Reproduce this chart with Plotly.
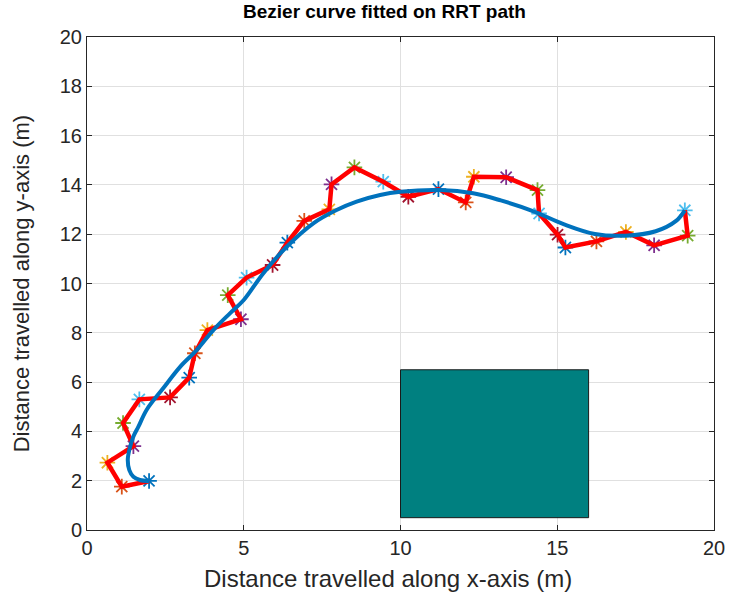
import plotly.graph_objects as go

# RRT path waypoints (red polyline with star markers)
path_x = [1.98, 1.11, 0.65, 1.48, 1.15, 1.67, 2.65, 3.26, 3.44, 3.84, 4.91, 4.49, 5.09, 5.92,
          6.39, 6.93, 7.73, 7.80, 8.53, 9.45, 10.25, 11.21, 12.08, 12.34, 13.37, 14.37,
          14.42, 15.01, 15.26, 16.25, 17.19, 18.09, 19.16, 19.07]
path_y = [1.99, 1.76, 2.73, 3.40, 4.34, 5.30, 5.38, 6.18, 7.17, 8.11, 8.55, 9.53, 10.24, 10.75,
          11.66, 12.54, 13.01, 14.02, 14.71, 14.13, 13.52, 13.83, 13.29, 14.33, 14.31, 13.79,
          12.84, 11.98, 11.46, 11.71, 12.09, 11.55, 11.94, 12.97]

# Fitted Bezier curve
bez_x = [1.98, 1.69, 1.48, 1.35, 1.30, 1.35, 1.48, 1.64, 1.90, 2.43, 2.97, 3.50, 4.03, 4.56,
         5.00, 5.62, 6.37, 7.22, 7.96, 8.60, 9.35, 10.0, 11.26, 12.32, 13.20, 14.20, 15.20,
         16.20, 17.17, 18.14, 18.79, 19.07]
bez_y = [1.99, 2.03, 2.16, 2.43, 2.84, 3.25, 3.79, 4.19, 4.87, 5.75, 6.62, 7.30, 8.11, 8.79,
         9.33, 10.41, 11.49, 12.44, 12.98, 13.32, 13.59, 13.72, 13.79, 13.66, 13.37, 12.95, 12.41,
         12.01, 11.94, 12.12, 12.54, 12.97]

# Obstacle rectangle
obstacle_x = [10, 16]
obstacle_y = [0.5, 6.5]

color_order = ["#0072BD", "#D95319", "#EDB120", "#7E2F8E", "#77AC30", "#4DBEEE", "#A2142F"]
marker_colors = [color_order[i % len(color_order)] for i in range(len(path_x))]

tick_vals_x = [0, 5, 10, 15, 20]
tick_vals_y = [0, 2, 4, 6, 8, 10, 12, 14, 16, 18, 20]

title_text = "Bezier curve fitted on RRT path"
xlabel_text = "Distance travelled along x-axis (m)"
ylabel_text = "Distance travelled along y-axis (m)"

FONT = "Liberation Sans, Arial"

fig = go.Figure()

fig.add_shape(type="rect", xref="x", yref="y",
              x0=obstacle_x[0], x1=obstacle_x[1], y0=obstacle_y[0], y1=obstacle_y[1],
              fillcolor="#008080", line=dict(color="#1a1a1a", width=1), layer="above")

fig.add_trace(go.Scatter(x=path_x, y=path_y, mode="markers",
                         marker=dict(symbol="asterisk-open", size=13, color=marker_colors,
                                     line=dict(color=marker_colors, width=1.8)),
                         showlegend=False, hoverinfo="skip"))
fig.add_trace(go.Scatter(x=path_x, y=path_y, mode="lines",
                         line=dict(color="#FF0000", width=4.5),
                         showlegend=False))
fig.add_trace(go.Scatter(x=bez_x, y=bez_y, mode="lines",
                         line=dict(color="#0072BD", width=4, shape="spline", smoothing=1.0),
                         showlegend=False))

axis_common = dict(
    showline=True, linecolor="#262626", linewidth=1, mirror="ticks",
    ticks="inside", ticklen=5, tickcolor="#262626", tickwidth=1,
    showgrid=True, gridcolor="#e0e0e0", gridwidth=1, zeroline=False,
    automargin=False,
    tickfont=dict(family=FONT, size=20, color="#262626"),
)

fig.add_annotation(text="<b>" + title_text + "</b>", xref="paper", yref="paper",
                   x=0.475, y=1.052, xanchor="center", yanchor="middle", showarrow=False,
                   font=dict(family=FONT, size=19, color="#000000"))
fig.add_annotation(text=xlabel_text, xref="paper", yref="paper",
                   x=0.48, y=-0.098, xanchor="center", yanchor="middle", showarrow=False,
                   font=dict(family=FONT, size=24, color="#262626"))
fig.add_annotation(text=ylabel_text, xref="paper", yref="paper", textangle=-90,
                   x=-0.104, y=0.5, xanchor="center", yanchor="middle", showarrow=False,
                   font=dict(family=FONT, size=22, color="#262626"))

fig.update_layout(
    width=729, height=594,
    margin=dict(l=87, r=15, t=37, b=64),
    paper_bgcolor="white", plot_bgcolor="white",
    xaxis=dict(range=[0, 20], tickvals=tick_vals_x, **axis_common),
    yaxis=dict(range=[0, 20], tickvals=tick_vals_y, **axis_common),
)

fig.write_html("out.html", config={"displayModeBar": False},
               post_script="document.body.style.margin='0';")
